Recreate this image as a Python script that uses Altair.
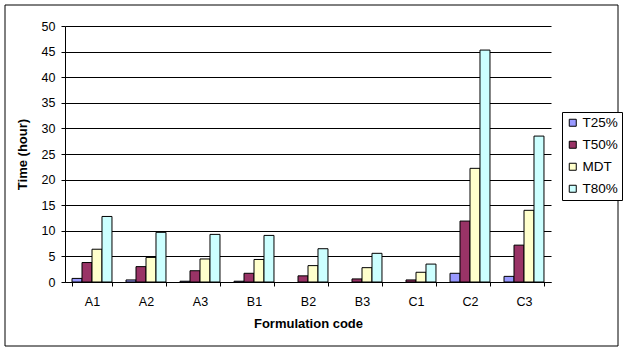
import altair as alt
import pandas as pd

codes = ["A1", "A2", "A3", "B1", "B2", "B3", "C1", "C2", "C3"]
series = ["T25%", "T50%", "MDT", "T80%"]
t25 = [0.7, 0.4, 0.15, 0.15, 0.0, 0.0, 0.0, 1.7, 1.1]
t50 = [3.8, 3.0, 2.2, 1.7, 1.2, 0.6, 0.4, 11.9, 7.2]
mdt = [6.4, 4.8, 4.5, 4.4, 3.2, 2.8, 1.9, 22.2, 14.0]
t80 = [12.8, 9.7, 9.3, 9.1, 6.5, 5.6, 3.5, 45.3, 28.5]
colors = ["#9999FF", "#993366", "#FFFFCC", "#CCFFFF"]

rows = []
for name, vals in zip(series, [t25, t50, mdt, t80]):
    for c, v in zip(codes, vals):
        rows.append({"code": c, "series": name, "value": v})
df = pd.DataFrame(rows)

FONT = "Liberation Sans"

bars = alt.Chart(df).transform_filter("datum.value > 0").mark_bar(
    stroke="black", strokeWidth=1
).encode(
    x=alt.X("code:N", sort=codes, title="Formulation code",
            scale=alt.Scale(domain=codes, paddingInner=0.26, paddingOuter=0.13),
            axis=alt.Axis(labelAngle=0, tickBand="extent", domainColor="black",
                          tickColor="black", tickSize=4, labelPadding=9,
                          labelFontSize=12.5, labelColor="black", titleFontSize=13,
                          titleFontWeight="bold", titleColor="black",
                          titlePadding=10, labelFont=FONT, titleFont=FONT, grid=False)),
    xOffset=alt.XOffset("series:N", sort=series, scale=alt.Scale(domain=series)),
    y=alt.Y("value:Q", title="Time (hour)",
            scale=alt.Scale(domain=[0, 50], nice=False),
            axis=alt.Axis(values=list(range(0, 51, 5)), grid=True, gridColor="black",
                          gridWidth=1, domainColor="black", tickColor="black",
                          tickSize=4, labelFontSize=12.5, labelColor="black",
                          labelPadding=6, titleFontSize=13, titleFontWeight="bold",
                          titleColor="black", titlePadding=12, labelFont=FONT,
                          titleFont=FONT)),
    color=alt.Color("series:N", sort=series,
                    scale=alt.Scale(domain=series, range=colors),
                    legend=alt.Legend(title=None, orient="none", legendX=497,
                                      legendY=86, strokeColor="black", padding=4,
                                      symbolType="square", symbolSize=49,
                                      symbolStrokeColor="black", symbolStrokeWidth=1,
                                      labelFontSize=13.5, labelFont=FONT,
                                      labelColor="black", rowPadding=7,
                                      labelOffset=3, fillColor="white")),
)

border = alt.Chart(alt.Data(values=[{}])).mark_rect(
    fill=None, stroke="black", strokeWidth=1
).encode(
    x=alt.value(-60), x2=alt.value(553), y=alt.value(-21), y2=alt.value(320)
)

chart = alt.layer(bars, border).properties(
    width=486, height=256,
    autosize=alt.AutoSizeParams(type="none"),
    padding={"left": 65, "top": 26, "right": 74, "bottom": 70},
    background="white",
).configure_view(stroke=None)

chart.save("out.html", embed_options={"renderer": "svg", "actions": False})
